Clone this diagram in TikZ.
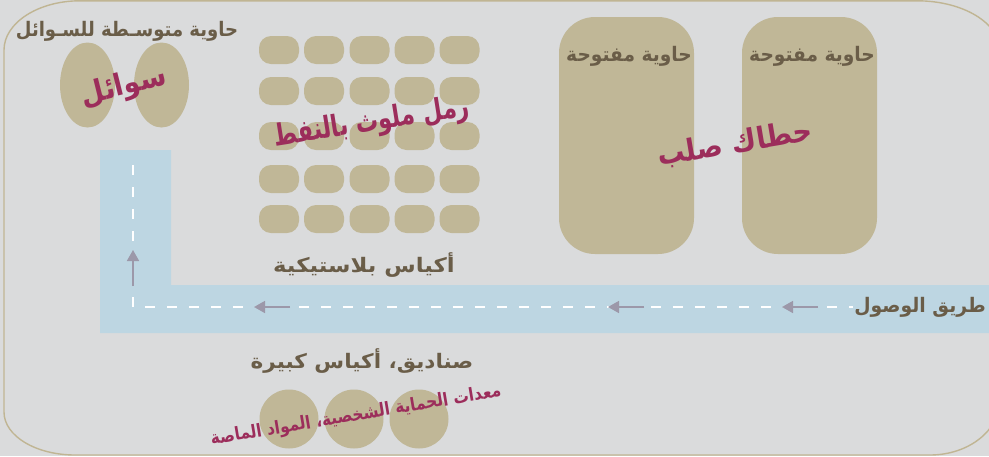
\documentclass[tikz,border=0pt]{standalone}
\usepackage{graphicx}
\usepackage{fontspec}
\usetikzlibrary{shapes.geometric,arrows.meta}
\newfontfamily\arabicfont[Script=Arabic]{DejaVu Sans}
\TeXXeTstate=1
\definecolor{bgcol}{HTML}{DADBDC}
\definecolor{tancol}{HTML}{C0B797}
\definecolor{bordercol}{HTML}{C0B593}
\definecolor{roadcol}{HTML}{BDD6E2}
\definecolor{darkcol}{HTML}{6A5D48}
\definecolor{magcol}{HTML}{9C2D5B}
\definecolor{arrowcol}{HTML}{9C98A9}
\newcommand{\ar}[2][1]{\scalebox{#1}[1]{\arabicfont\bfseries\beginR #2\endR}}
\tikzset{
  bag/.style={rectangle, fill=tancol, minimum width=40pt, minimum height=28pt, inner sep=0pt, rounded corners=12pt},
  opencont/.style={rectangle, fill=tancol, minimum width=135pt, minimum height=237pt, inner sep=0pt, rounded corners=36pt},
  drum/.style={ellipse, fill=tancol, minimum width=55pt, minimum height=85pt, inner sep=0pt},
  boxc/.style={circle, fill=tancol, minimum size=59pt, inner sep=0pt},
  darklabel/.style={text=darkcol, inner sep=0pt, font=\fontsize{20}{23}\selectfont},
  maglabel/.style={text=magcol, inner sep=0pt, font=\fontsize{30}{34}\selectfont},
  roadline/.style={white, line width=1.3pt, dash pattern=on 10pt off 12pt},
  flowarrow/.style={arrowcol, line width=1.6pt, -{Triangle[length=11pt,width=12pt]}}
}
\begin{document}
\begin{tikzpicture}[x=1pt,y=-1pt]
\useasboundingbox (0,0) rectangle (989,456);
\fill[bgcol] (0,0) rectangle (989,456);
\begin{scope}
\clip (0,0) rectangle (989,456);
\draw[bordercol, line width=1.4pt]
  (4,50) .. controls (4,23) and (38,0.8) .. (80,0.8)
  -- (917,0.8) .. controls (963,0.8) and (1000,23) .. (1000,51)
  -- (1000,400) .. controls (1000,430) and (969,455) .. (930,455)
  -- (75,455) .. controls (36,455) and (4,436) .. (4,412) -- cycle;
\end{scope}
% road
\fill[roadcol] (100,150) -- (171,150) -- (171,285) -- (989,285) -- (989,333) -- (100,333) -- cycle;
\coordinate (rtop) at (133,165);
\coordinate (rcorner) at (133,307);
\coordinate (rend) at (853,307);
\draw[roadline] (rtop) -- (rcorner) -- (rend);
\coordinate (a1s) at (290,307); \coordinate (a1e) at (254,307);
\coordinate (a2s) at (644,307); \coordinate (a2e) at (608,307);
\coordinate (a3s) at (818,307); \coordinate (a3e) at (782,307);
\coordinate (a4s) at (133,286); \coordinate (a4e) at (133,250);
\draw[flowarrow] (a1s) -- (a1e);
\draw[flowarrow] (a2s) -- (a2e);
\draw[flowarrow] (a3s) -- (a3e);
\draw[flowarrow] (a4s) -- (a4e);
\node[darklabel, anchor=east] (roadlbl) at (986,307) {\ar[0.94]{طريق الوصول}};
% liquids
\node[drum] (drum1) at (87.5,85) {};
\node[drum] (drum2) at (161.5,85) {};
\node[darklabel] (liqlbl) at (127,31) {\ar[0.9]{حاوية متوسـطة للسـوائل}};
\node[maglabel, rotate=14] (liqtxt) at (124,87) {\ar[0.9]{سوائل}};
% plastic bags grid
\foreach \c [count=\i] in {279,324,369.5,414.5,459.5}{
  \foreach \r [count=\j] in {50,91,136,179,219}{
    \node[bag] (bag\i\j) at (\c,\r) {};
  }
}
\node[darklabel] (baglbl) at (364,265) {\ar[1.14]{أكياس بلاستيكية}};
\node[maglabel, rotate=9] (sandtxt) at (372,123) {\ar[0.75]{رمل ملوث بالنفط}};
% open containers
\node[opencont] (cont1) at (626.5,135.5) {};
\node[opencont] (cont2) at (809.5,135.5) {};
\node[darklabel] (cont1lbl) at (629,56) {\ar[0.93]{حاوية مفتوحة}};
\node[darklabel] (cont2lbl) at (812,56) {\ar[0.93]{حاوية مفتوحة}};
\node[maglabel, rotate=9.5] (solidtxt) at (735,144) {\ar[0.9]{حطاك صلب}};
% boxes
\node[darklabel] (boxlbl) at (362,361) {\ar[1.08]{صناديق، أكياس كبيرة}};
\node[boxc] (box1) at (289,419) {};
\node[boxc] (box2) at (354,419) {};
\node[boxc] (box3) at (419,419) {};
\node[maglabel, rotate=9.5, font=\fontsize{18}{21}\selectfont] (ppetxt) at (356,416) {\ar[0.86]{معدات الحماية الشخصية، المواد الماصة}};
\end{tikzpicture}
\end{document}
